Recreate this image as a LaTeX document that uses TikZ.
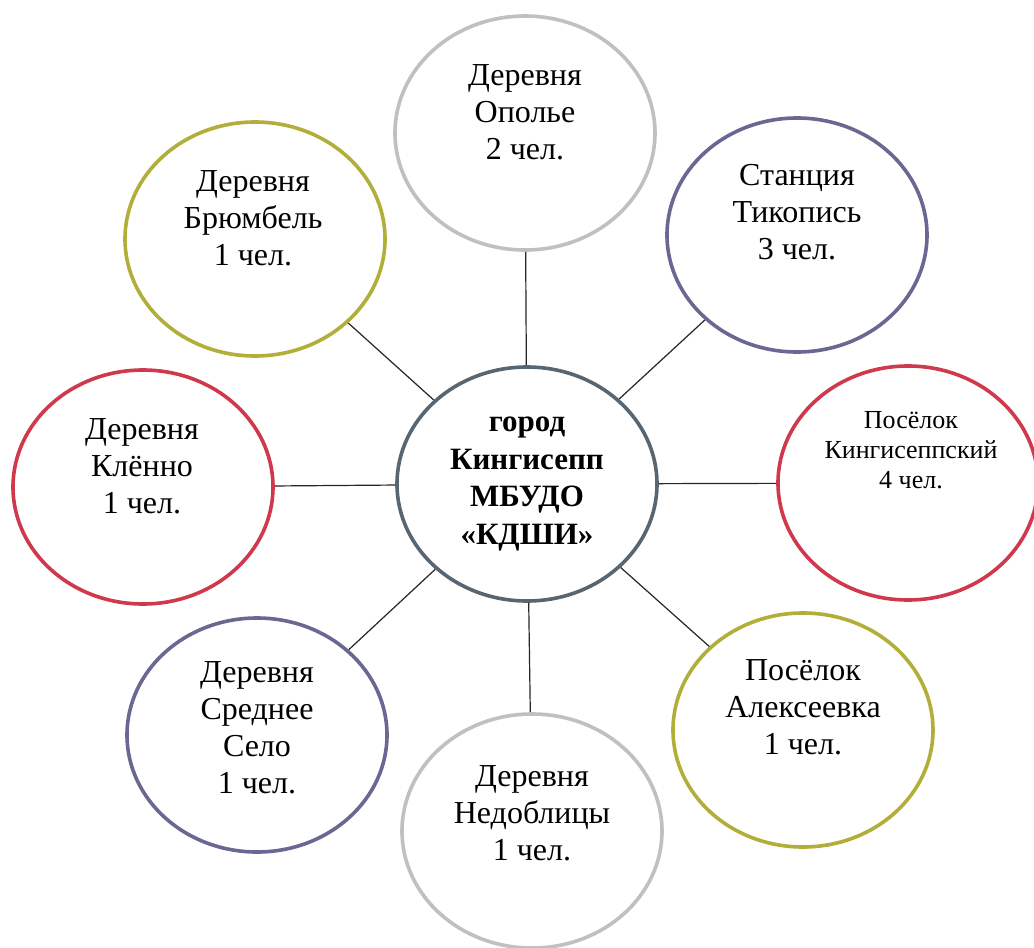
\documentclass[tikz,border=0pt]{standalone}
\usepackage{fontspec}
\setmainfont{Liberation Serif}
\usetikzlibrary{shapes.geometric}
\definecolor{ringgray}{RGB}{192,192,192}
\definecolor{ringolive}{RGB}{178,174,58}
\definecolor{ringred}{RGB}{208,56,76}
\definecolor{ringslate}{RGB}{104,104,146}
\definecolor{ringcenter}{RGB}{88,102,114}
\tikzset{
  ring/.style={ellipse, draw=#1, minimum width=260pt, minimum height=234pt, line width=3.6pt, inner sep=0pt},
  lbl/.style={align=center, inner sep=0pt, font=\fontsize{32}{37}\selectfont},
  lblsmall/.style={align=center, inner sep=0pt, font=\fontsize{26}{30}\selectfont},
  lblbold/.style={align=center, inner sep=0pt, font=\fontsize{31}{37.5}\selectfont\bfseries},
  link/.style={line width=1.2pt, draw=black!85},
}
\begin{document}
\begin{tikzpicture}[x=1pt,y=-1pt]
\useasboundingbox (0,0) rectangle (1034,948);
\fill[white] (0,0) rectangle (1034,948);
% rings
\node[ring=ringcenter] (c) at (527,484) {};
\node[ring=ringgray]  (n1) at (525,133) {};
\node[ring=ringslate] (n2) at (797,235) {};
\node[ring=ringred]   (n3) at (908,483) {};
\node[ring=ringolive] (n4) at (803,730) {};
\node[ring=ringgray]  (n5) at (532,831) {};
\node[ring=ringslate] (n6) at (257,735) {};
\node[ring=ringred]   (n7) at (143,487) {};
\node[ring=ringolive] (n8) at (255,239) {};
% labels
\node[lblbold] (tc) at (527,484) {город\\Кингисепп\\МБУДО\\«КДШИ»};
\node[lbl] (t1) at (525,112) {Деревня\\Ополье\\2 чел.};
\node[lbl] (t2) at (797,212) {Станция\\Тикопись\\3 чел.};
\node[lblsmall] (t3) at (911,450) {Посёлок\\Кингисеппский\\4 чел.};
\node[lbl] (t4) at (803,707) {Посёлок\\Алексеевка\\1 чел.};
\node[lbl] (t5) at (532,813) {Деревня\\Недоблицы\\1 чел.};
\node[lbl] (t6) at (257,728) {Деревня\\Среднее\\Село\\1 чел.};
\node[lbl] (t7) at (142,466) {Деревня\\Клённо\\1 чел.};
\node[lbl] (t8) at (253,218) {Деревня\\Брюмбель\\1 чел.};
% connectors
\foreach \n in {n1,n2,n3,n4,n5,n6,n7,n8}
  \draw[link] (c) -- (\n);
\end{tikzpicture}
\end{document}
